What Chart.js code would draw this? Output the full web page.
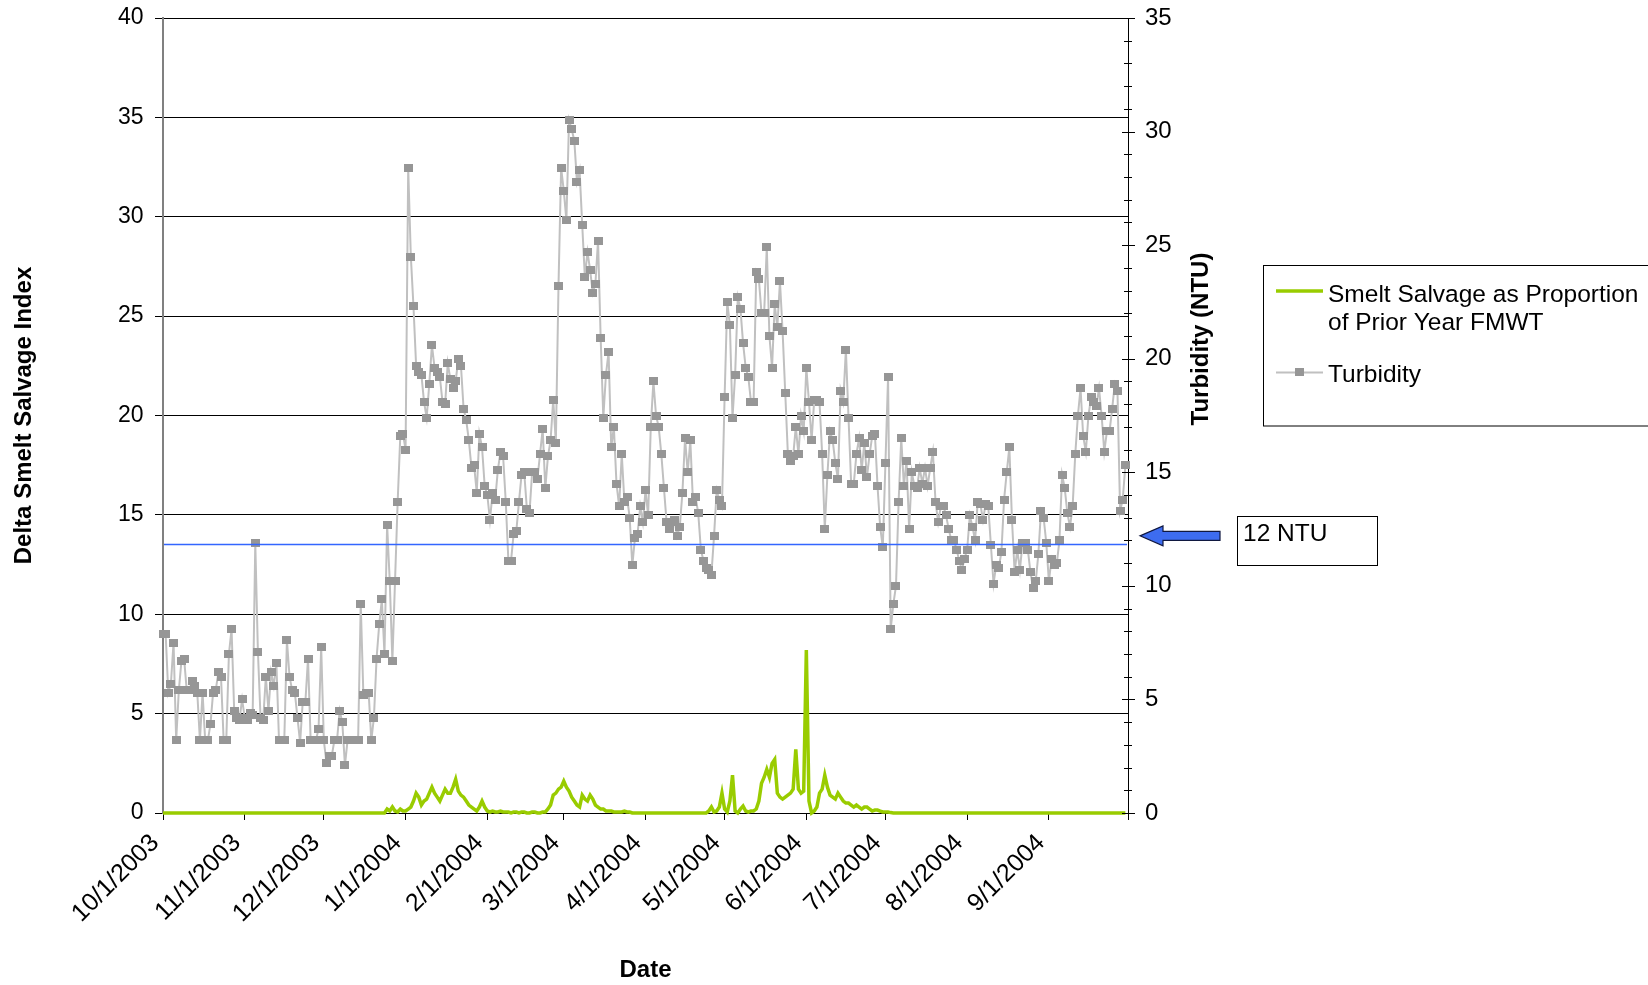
<!DOCTYPE html>
<html>
<head>
<meta charset="utf-8">
<title>Delta Smelt Salvage and Turbidity</title>
<script src="https://cdn.jsdelivr.net/npm/chart.js@4.4.1/dist/chart.umd.min.js"></script>
<style>
  html, body { margin: 0; padding: 0; background: #fff; }
  #wrap { position: relative; width: 1648px; height: 985px; }
</style>
</head>
<body>
<div id="wrap"><canvas id="chart" width="1648" height="985"></canvas></div>
<script>
// Turbidity (NTU), one value per day, month by month (10/2003 - 9/2004)
const turbOct = [7.9, 7.9, 5.3, 5.7, 7.5, 3.2, 5.4, 6.7, 6.8, 5.4, 5.4, 5.8, 5.6, 5.3, 3.2, 5.3, 3.2, 3.2, 3.9, 5.3, 5.4, 6.2, 6.0, 3.2, 3.2, 7.0, 8.1, 4.5, 4.2, 4.1, 5.0];
const turbNov = [4.2, 4.1, 4.4, 4.3, 11.9, 7.1, 4.2, 4.1, 6.0, 4.5, 6.2, 5.6, 6.6, 3.2, 3.2, 3.2, 7.6, 6.0, 5.4, 5.3, 4.2, 3.1, 4.9, 4.9, 6.8, 3.2, 3.2, 3.2, 3.7, 7.3];
const turbDec = [3.2, 2.2, 2.5, 2.5, 3.2, 3.2, 4.5, 4.0, 2.1, 3.2, 3.2, 3.2, 3.2, 3.2, 9.2, 5.2, 5.3, 5.3, 3.2, 4.2, 6.8, 8.3, 9.4, 7.0, 12.7, 10.2, 6.7, 10.2, 13.7, 16.6, 16.7];
const turbJan = [16.0, 28.4, 24.5, 22.3, 19.7, 19.4, 19.3, 18.1, 17.4, 18.9, 20.6, 19.6, 19.4, 19.2, 18.1, 18.0, 19.8, 19.1, 18.7, 19.0, 20.0, 19.7, 17.8, 17.3, 16.4, 15.2, 15.3, 14.1, 16.7, 16.1, 14.4];
const turbFeb = [14.0, 12.9, 14.1, 13.8, 15.1, 15.9, 15.7, 13.7, 11.1, 11.1, 12.3, 12.4, 13.7, 14.9, 15.0, 13.4, 13.2, 15.0, 15.0, 14.7, 15.8, 16.9, 14.3, 15.7, 16.4, 18.2, 16.3, 23.2, 28.4];
const turbMar = [27.4, 26.1, 30.5, 30.1, 29.6, 27.8, 28.3, 25.9, 23.6, 24.7, 23.9, 22.9, 23.3, 25.2, 20.9, 17.4, 19.3, 20.3, 16.1, 17.0, 14.5, 13.5, 15.8, 13.7, 13.9, 13.0, 10.9, 12.1, 12.3, 13.5, 12.8];
const turbApr = [14.2, 13.1, 17.0, 19.0, 17.5, 17.0, 15.8, 14.3, 12.8, 12.5, 12.8, 12.9, 12.2, 12.6, 14.1, 16.5, 15.0, 16.4, 13.7, 13.9, 13.2, 11.6, 11.1, 10.8, 10.7, 10.5, 12.2, 14.2, 13.8, 13.5];
const turbMay = [18.3, 22.5, 21.5, 17.4, 19.3, 22.7, 22.2, 20.7, 19.6, 19.2, 18.1, 18.1, 23.8, 23.5, 22.0, 22.0, 24.9, 21.0, 19.6, 22.4, 21.4, 23.4, 21.2, 18.5, 15.8, 15.5, 15.7, 17.0, 15.8, 17.5, 16.8];
const turbJun = [19.6, 18.1, 16.4, 18.2, 18.2, 18.1, 15.8, 12.5, 14.9, 16.8, 16.4, 15.4, 14.7, 18.6, 18.1, 20.4, 17.4, 14.5, 14.5, 15.8, 16.5, 15.1, 16.3, 14.8, 15.8, 16.6, 16.7, 14.4, 12.6, 11.7];
const turbJul = [15.4, 19.2, 8.1, 9.2, 10.0, 13.7, 16.5, 14.4, 15.5, 12.5, 15.0, 14.4, 14.3, 15.2, 14.5, 15.2, 14.4, 15.2, 15.9, 13.7, 12.8, 13.5, 13.5, 13.1, 12.5, 12.0, 12.0, 11.6, 11.1, 10.7, 11.2];
const turbAug = [11.6, 13.1, 12.6, 12.0, 13.7, 13.6, 12.9, 13.6, 13.5, 11.8, 10.1, 10.9, 10.8, 11.5, 13.8, 15.0, 16.1, 12.9, 10.6, 11.6, 10.7, 11.9, 11.9, 11.6, 10.6, 9.9, 10.2, 11.4, 13.3, 13.0, 11.9];
const turbSep = [10.2, 11.2, 10.9, 11.0, 12.0, 14.9, 14.3, 13.2, 12.6, 13.5, 15.8, 17.5, 18.7, 16.6, 15.9, 17.5, 18.3, 18.1, 17.9, 18.7, 17.5, 15.9, 16.8, 16.8, 17.8, 18.9, 18.6, 13.3, 13.8, 15.3];

// Smelt salvage as proportion of prior year FMWT (left axis), daily
const salvOct = [0,0,0,0,0,0,0,0,0,0,0,0,0,0,0,0,0,0,0,0,0,0,0,0,0,0,0,0,0,0,0];
const salvNov = [0,0,0,0,0,0,0,0,0,0,0,0,0,0,0,0,0,0,0,0,0,0,0,0,0,0,0,0,0,0];
const salvDec = [0,0,0,0,0,0,0,0,0,0,0,0,0,0,0,0,0,0,0,0,0,0,0,0,0.2,0.1,0.3,0.1,0.05,0.2,0.1];
const salvJan = [0.1,0.2,0.3,0.6,1.0,0.8,0.4,0.6,0.7,1.0,1.3,1.0,0.8,0.6,0.9,1.2,1.0,1.0,1.3,1.7,1.1,0.9,0.8,0.6,0.4,0.3,0.2,0.1,0.3,0.6,0.3];
const salvFeb = [0.1,0.05,0.1,0.05,0.05,0.1,0.05,0.05,0.05,0,0.05,0.05,0,0.05,0.05,0,0,0.05,0.05,0,0,0.05,0.05,0.2,0.4,0.9,1.0,1.2,1.3];
const salvMar = [1.6,1.3,1.1,0.8,0.6,0.4,0.3,0.9,0.7,0.6,0.9,0.7,0.4,0.3,0.2,0.2,0.1,0.1,0.1,0.05,0.05,0.05,0.05,0.1,0.05,0.05,0,0,0,0,0];
const salvApr = [0,0,0,0,0,0,0,0,0,0,0,0,0,0,0,0,0,0,0,0,0,0,0,0,0.1,0.3,0.05,0.1,0.3,1.0];
const salvMay = [0.2,0.05,0.6,1.9,0.1,0,0.2,0.35,0.1,0.05,0.1,0.1,0.2,0.6,1.5,1.8,2.2,1.8,2.5,2.7,1.0,0.8,0.7,0.8,0.9,1.0,1.2,3.2,1.2,1.0,1.1];
const salvJun = [8.2,0.6,0,0.1,0.3,1.0,1.2,1.9,1.3,0.9,0.8,0.7,1.0,0.8,0.6,0.5,0.5,0.4,0.3,0.4,0.3,0.2,0.3,0.3,0.2,0.1,0.15,0.15,0.1,0.05];
const salvJul = [0.05,0.05,0.02,0,0,0,0,0,0,0,0,0,0,0,0,0,0,0,0,0,0,0,0,0,0,0,0,0,0,0,0];
const salvAug = [0,0,0,0,0,0,0,0,0,0,0,0,0,0,0,0,0,0,0,0,0,0,0,0,0,0,0,0,0,0,0];
const salvSep = [0,0,0,0,0,0,0,0,0,0,0,0,0,0,0,0,0,0,0,0,0,0,0,0,0,0,0,0,0,0];

// x axis tick labels (first of each month), last tick has no label
const monthLabels = ['10/1/2003', '11/1/2003', '12/1/2003', '1/1/2004', '2/1/2004', '3/1/2004',
  '4/1/2004', '5/1/2004', '6/1/2004', '7/1/2004', '8/1/2004', '9/1/2004', ''];

const thresholdNTU = 11.85;   // drawn "12 NTU" line sits just under 12
const thresholdLabel = '12 NTU';
const salvageLabel = ['Smelt Salvage as Proportion', 'of Prior Year FMWT'];
const turbLabel = 'Turbidity';
const leftTitle = 'Delta Smelt Salvage Index';
const rightTitle = 'Turbidity (NTU)';
const xTitle = 'Date';

const turbMonths = [turbOct, turbNov, turbDec, turbJan, turbFeb, turbMar, turbApr, turbMay, turbJun, turbJul, turbAug, turbSep];
const salvMonths = [salvOct, salvNov, salvDec, salvJan, salvFeb, salvMar, salvApr, salvMay, salvJun, salvJul, salvAug, salvSep];

const turbidity = [].concat(...turbMonths);
const salvage = [].concat(...salvMonths);
const monthStarts = [0];
turbMonths.forEach(m => monthStarts.push(monthStarts[monthStarts.length - 1] + m.length));
const totalDays = monthStarts[monthStarts.length - 1];

const FONT = "'Liberation Sans', Arial, sans-serif";
const GREEN = '#99cc00';
const GREY_LINE = '#c0c0c0';
const GREY_MARK = '#969696';

// square marker used for turbidity points
const marker = document.createElement('canvas');
marker.width = 9;
marker.height = 8;
(function() {
  const m = marker.getContext('2d');
  m.fillStyle = GREY_MARK;
  m.fillRect(0, 0, 9, 8);
})();

// stop the axes from reserving extra room around the plot
function noPad(scale) {
  scale.paddingTop = 0;
  scale.paddingBottom = 0;
  scale.paddingLeft = 0;
  scale.paddingRight = 0;
}

const extras = {
  id: 'extras',
  afterDatasetsDraw(chart) {
    const ctx = chart.ctx, area = chart.chartArea;
    const ty = Math.round(chart.scales.y2.getPixelForValue(thresholdNTU)) + 0.5;
    ctx.save();
    ctx.strokeStyle = '#3366ff';
    ctx.lineWidth = 1.5;
    ctx.beginPath();
    ctx.moveTo(area.left + 1, ty);
    ctx.lineTo(area.right - 1, ty);
    ctx.stroke();
    ctx.restore();
  },
  afterDraw(chart) {
    const ctx = chart.ctx, area = chart.chartArea;
    const y2 = chart.scales.y2;
    const xs = chart.scales.x;
    ctx.save();

    // cross tick marks on turbidity axis (major every 5, minor every 1)
    ctx.strokeStyle = '#000';
    ctx.lineWidth = 1;
    for (let v = 0; v <= 35; v++) {
      const y = Math.round(y2.getPixelForValue(v)) + 0.5;
      const major = v % 5 === 0;
      ctx.beginPath();
      ctx.moveTo(area.right - (major ? 6 : 4), y);
      ctx.lineTo(area.right + (major ? 7 : 4), y);
      ctx.stroke();
    }

    // date labels, rotated 45 degrees, ending at their tick
    ctx.fillStyle = '#000';
    ctx.font = '25px ' + FONT;
    ctx.textAlign = 'right';
    ctx.textBaseline = 'alphabetic';
    monthStarts.forEach(function(d, i) {
      const label = monthLabels[i];
      if (!label) return;
      const px = xs.getPixelForValue(d);
      ctx.save();
      ctx.translate(px - 3, area.bottom + 31);
      ctx.rotate(-Math.PI / 4);
      ctx.fillText(label, 0, 0);
      ctx.restore();
    });

    // axis titles
    ctx.font = 'bold 24px ' + FONT;
    ctx.textAlign = 'center';
    ctx.textBaseline = 'middle';
    ctx.save();
    ctx.translate(24, (area.top + area.bottom) / 2);
    ctx.rotate(-Math.PI / 2);
    ctx.fillText(leftTitle, 0, 0);
    ctx.restore();
    ctx.save();
    ctx.translate(1201, 339);
    ctx.rotate(-Math.PI / 2);
    ctx.fillText(rightTitle, 0, 0);
    ctx.restore();
    ctx.fillText(xTitle, (area.left + area.right) / 2, 970);

    // blue arrow pointing at the threshold
    const ay = y2.getPixelForValue(thresholdNTU) - 8;
    const tip = area.right + 12;
    ctx.beginPath();
    ctx.moveTo(tip, ay);
    ctx.lineTo(tip + 23, ay - 10);
    ctx.lineTo(tip + 23, ay - 4.5);
    ctx.lineTo(tip + 80, ay - 4.5);
    ctx.lineTo(tip + 80, ay + 4.5);
    ctx.lineTo(tip + 23, ay + 4.5);
    ctx.lineTo(tip + 23, ay + 10);
    ctx.closePath();
    ctx.fillStyle = '#3d6cf0';
    ctx.fill();
    ctx.strokeStyle = '#101840';
    ctx.lineWidth = 1.2;
    ctx.stroke();

    // threshold label box
    ctx.fillStyle = '#fff';
    ctx.fillRect(1237.5, 516.5, 140, 49);
    ctx.strokeStyle = '#000';
    ctx.lineWidth = 1;
    ctx.strokeRect(1237.5, 516.5, 140, 49);
    ctx.fillStyle = '#000';
    ctx.font = '24.5px ' + FONT;
    ctx.textAlign = 'left';
    ctx.textBaseline = 'alphabetic';
    ctx.fillText(thresholdLabel, 1243, 541);

    // legend
    ctx.strokeRect(1263.5, 265.5, 400, 160.5);
    ctx.strokeStyle = GREEN;
    ctx.lineWidth = 3.5;
    ctx.beginPath();
    ctx.moveTo(1276, 291);
    ctx.lineTo(1323, 291);
    ctx.stroke();
    ctx.fillText(salvageLabel[0], 1328, 301.5);
    ctx.fillText(salvageLabel[1], 1328, 329.5);
    ctx.strokeStyle = GREY_LINE;
    ctx.lineWidth = 2;
    ctx.beginPath();
    ctx.moveTo(1276, 372.5);
    ctx.lineTo(1323, 372.5);
    ctx.stroke();
    ctx.drawImage(marker, 1295, 368);
    ctx.fillText(turbLabel, 1328, 381.5);

    ctx.restore();
  }
};

new Chart(document.getElementById('chart'), {
  type: 'line',
  data: {
    datasets: [
      {
        label: salvageLabel.join(' '),
        data: salvage.map((v, i) => ({ x: i, y: v })),
        yAxisID: 'y',
        borderColor: GREEN,
        borderWidth: 3.5,
        pointRadius: 0,
        tension: 0,
        fill: false,
        clip: false
      },
      {
        label: turbLabel,
        data: turbidity.map((v, i) => ({ x: i, y: v })),
        yAxisID: 'y2',
        borderColor: GREY_LINE,
        borderWidth: 2,
        pointStyle: marker,
        pointRadius: 4,
        tension: 0,
        fill: false,
        clip: false
      }
    ]
  },
  options: {
    responsive: false,
    animation: false,
    devicePixelRatio: 1,
    layout: { padding: { top: 18, left: 0, right: 0, bottom: 0 } },
    plugins: { legend: { display: false }, tooltip: { enabled: false } },
    scales: {
      x: {
        type: 'linear',
        min: 0,
        max: totalDays,
        afterBuildTicks: function(scale) {
          scale.ticks = monthStarts.map(v => ({ value: v }));
        },
        afterFit: function(scale) { scale.height = 172; noPad(scale); },
        grid: { display: true, drawOnChartArea: false, drawTicks: true, tickLength: 7, color: '#000', lineWidth: 1 },
        border: { display: true, color: '#000', width: 1 },
        ticks: { display: false, autoSkip: false }
      },
      y: {
        position: 'left',
        min: 0,
        max: 40,
        afterFit: function(scale) { scale.width = 163; noPad(scale); },
        grid: { color: '#000', lineWidth: 1, drawTicks: true, tickLength: 8 },
        border: { display: true, color: '#808080', width: 2 },
        ticks: { stepSize: 5, padding: 11.5, color: '#000', font: { family: FONT, size: 23 } }
      },
      y2: {
        position: 'right',
        min: 0,
        max: 35,
        afterFit: function(scale) { scale.width = 520; noPad(scale); },
        grid: { display: false, drawTicks: false },
        border: { display: true, color: '#000', width: 1 },
        ticks: { stepSize: 5, padding: 17, color: '#000', font: { family: FONT, size: 24 } }
      }
    }
  },
  plugins: [extras]
});
</script>
</body>
</html>
